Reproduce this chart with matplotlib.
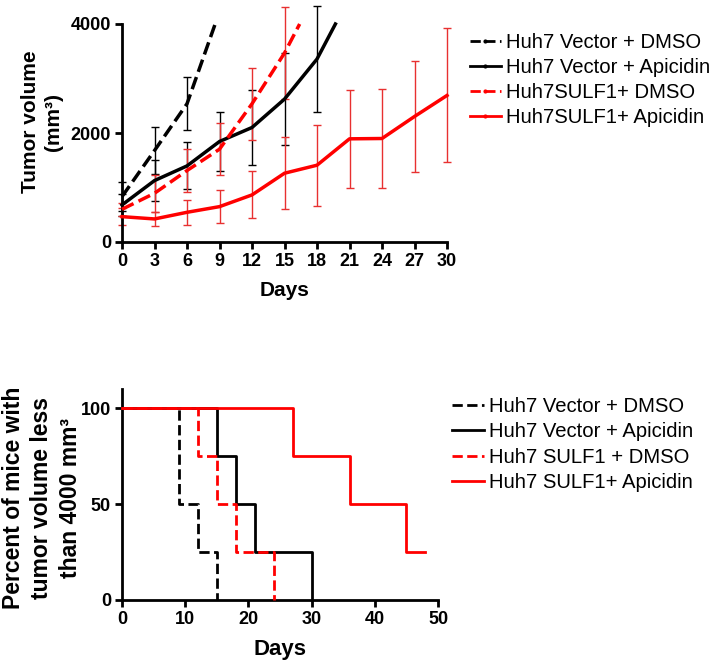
import matplotlib
matplotlib.use("Agg")
import matplotlib.pyplot as plt
import numpy as np
from matplotlib.lines import Line2D

plt.rcParams['font.family'] = ['Liberation Sans', 'DejaVu Sans']

# ---------------- Data: tumor volume ----------------
days_vd = [0, 3, 6, 8.6]
vol_vd = [833, 1678, 2536, 4000]
err_vd = [260, 430, 490]

days_va = [0, 3, 6, 9, 12, 15, 18, 19.7]
vol_va = [680, 1127, 1396, 1844, 2101, 2622, 3357, 4000]
err_va = [200, 375, 430, 540, 690, 840, 980]

days_sd = [0, 3, 6, 9, 12, 15, 16.4]
vol_sd = [600, 894, 1311, 1703, 2536, 3467, 4000]
err_sd = [120, 340, 400, 480, 660, 850]

days_sa = [0, 3, 6, 9, 12, 15, 18, 21, 24, 27, 30]
vol_sa = [465, 423, 545, 649, 864, 1262, 1409, 1893, 1899, 2303, 2689]
err_sa = [150, 130, 230, 300, 430, 660, 740, 895, 900, 1020, 1230]

labels_top = ["Huh7 Vector + DMSO", "Huh7 Vector + Apicidin",
              "Huh7SULF1+ DMSO", "Huh7SULF1+ Apicidin"]

# ---------------- Data: survival ----------------
km_t_vd = [0, 9, 12, 15]
km_p_vd = [100, 50, 25, 0]
km_t_va = [0, 15, 18, 21, 30]
km_p_va = [100, 75, 50, 25, 0]
km_t_sd = [0, 12, 15, 18, 24]
km_p_sd = [100, 75, 50, 25, 0]
km_t_sa = [0, 27, 36, 45, 48]
km_p_sa = [100, 75, 50, 25, 25]

labels_bot = ["Huh7 Vector + DMSO", "Huh7 Vector + Apicidin",
              "Huh7 SULF1 + DMSO", "Huh7 SULF1+ Apicidin"]

RED = '#ff0000'
BLACK = '#000000'

fig = plt.figure(figsize=(7.2, 6.66), dpi=100)

# ---------------- Top chart ----------------
ax1 = fig.add_axes([122/720, 1-242/666, 325/720, 218/666])
series = [
    (days_vd, vol_vd, err_vd, BLACK, '--', BLACK),
    (days_va, vol_va, err_va, BLACK, '-', BLACK),
    (days_sd, vol_sd, err_sd, RED, '--', '#e83030'),
    (days_sa, vol_sa, err_sa, RED, '-', '#e83030'),
]
handles = []
for d, v, e, c, ls, ec in series:
    n = len(e)
    ax1.errorbar(d[:n], v[:n], yerr=e, fmt='none', ecolor=ec, elinewidth=1,
                 capsize=3, capthick=1, clip_on=False, zorder=2)
    ax1.plot(d, v, color=c, ls=ls, lw=2.5, clip_on=False, zorder=3)
    handles.append(Line2D([], [], color=c, ls=ls, lw=2, marker='.', markersize=4))

ax1.set_xlim(0, 30)
ax1.set_ylim(0, 4000)
ax1.set_xticks(np.arange(0, 31, 3))
ax1.set_yticks([0, 2000, 4000])
for s in ['top', 'right']:
    ax1.spines[s].set_visible(False)
for s in ['left', 'bottom']:
    ax1.spines[s].set_linewidth(2)
ax1.tick_params(width=2, length=5, labelsize=13, pad=3)
for t in ax1.get_xticklabels() + ax1.get_yticklabels():
    t.set_fontweight('bold')
ax1.set_xlabel("Days", fontsize=15, fontweight='bold', labelpad=8)
fig.text(42/720, 1-122/666, "Tumor volume\n(mm³)", rotation=90, ha='center',
         va='center', fontsize=15, fontweight='bold', linespacing=1.2)

ax1.legend(handles, labels_top, loc='upper left', bbox_to_anchor=(1.045, 0.995),
           frameon=False, fontsize=14.6, handlelength=1.55, handletextpad=0.25,
           labelspacing=0.3, borderaxespad=0)

# ---------------- Bottom chart ----------------
ax2 = fig.add_axes([122/720, 1-600/666, 316/720, 211/666])
km = [
    (km_t_vd, km_p_vd, BLACK, '--'),
    (km_t_va, km_p_va, BLACK, '-'),
    (km_t_sd, km_p_sd, RED, '--'),
    (km_t_sa, km_p_sa, RED, '-'),
]
handles2 = []
for t, p, c, ls in km:
    ax2.step(t, p, where='post', color=c, ls=ls, lw=2, clip_on=False, zorder=3)
    handles2.append(Line2D([], [], color=c, ls=ls, lw=2))

ax2.set_xlim(0, 50)
ax2.set_ylim(0, 110)
ax2.set_xticks([0, 10, 20, 30, 40, 50])
ax2.set_yticks([0, 50, 100])
for s in ['top', 'right']:
    ax2.spines[s].set_visible(False)
for s in ['left', 'bottom']:
    ax2.spines[s].set_linewidth(2)
ax2.tick_params(width=2, length=5, labelsize=13, pad=3)
for t in ax2.get_xticklabels() + ax2.get_yticklabels():
    t.set_fontweight('bold')
ax2.set_xlabel("Days", fontsize=16, fontweight='bold', labelpad=8)
fig.text(42/720, 1-498/666, "Percent of mice with\ntumor volume less\nthan 4000 mm³",
         rotation=90, ha='center', va='center', fontsize=16.5, fontweight='bold',
         linespacing=1.3)

ax2.legend(handles2, labels_bot, loc='upper left', bbox_to_anchor=(1.02, 1.0),
           frameon=False, fontsize=14.6, handlelength=1.55, handletextpad=0.25,
           labelspacing=0.31, borderaxespad=0)

fig.savefig("out.png", dpi=100, facecolor='white')
